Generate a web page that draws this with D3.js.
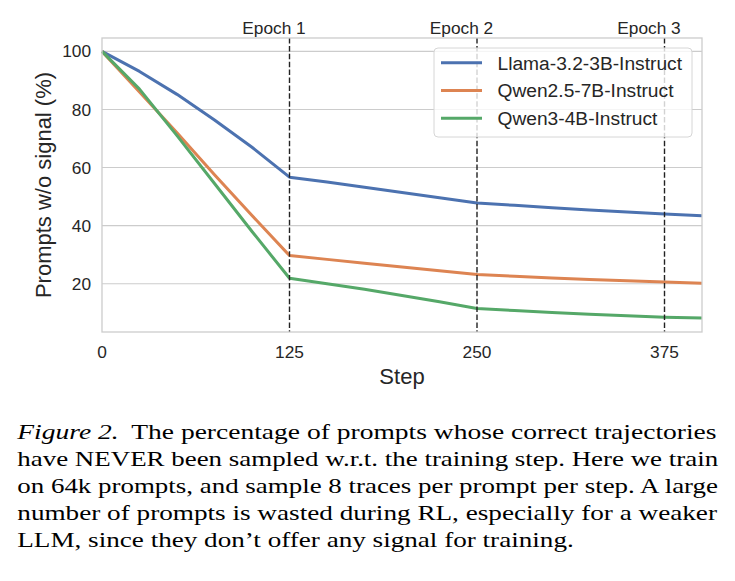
<!DOCTYPE html>
<html lang="en">
<head>
<meta charset="UTF-8">
<title>Prompts without signal</title>
<script src="https://d3js.org/d3.v7.min.js"></script>
<style>
    body {
    margin: 0;
    background-color: white;
    }
    .tick-label {
    font-family: "Liberation Sans", Arial, sans-serif;
    font-size: 17.3px;
    fill: #262626;
    }
    .axis-title {
    font-family: "Liberation Sans", Arial, sans-serif;
    font-size: 22px;
    fill: #262626;
    }
    .legend-label {
    font-family: "Liberation Sans", Arial, sans-serif;
    font-size: 19.2px;
    fill: #262626;
    }
    .caption {
    font-family: "Liberation Serif", "Times New Roman", serif;
    font-size: 22px;
    fill: black;
    }
</style>
</head>
<body>
<svg id="chart" width="735" height="581"></svg>
<script>
    const width = 735;
    const height = 581;

    // data
    const steps = [0, 25, 50, 75, 100, 125, 150, 175, 200, 225, 250, 275, 300, 325, 350, 375, 400];
    const llama = [100, 93.1, 85.2, 76.4, 67.0, 56.7, 55, 53.2, 51.4, 49.6, 47.8, 47.0, 46.2, 45.4, 44.7, 44.0, 43.4];
    const qwen25 = [100, 86, 72, 57.5, 43.5, 29.7, 28.4, 27.1, 25.8, 24.5, 23.2, 22.6, 22.0, 21.5, 21.0, 20.6, 20.2];
    const qwen3 = [100, 87, 71, 54.5, 38, 21.9, 20.0, 18.1, 16.0, 13.8, 11.5, 10.8, 10.1, 9.5, 9.0, 8.5, 8.2];
    const seriesNames = ["Llama-3.2-3B-Instruct", "Qwen2.5-7B-Instruct", "Qwen3-4B-Instruct"];
    const seriesColors = ["#4C72B0", "#DD8452", "#55A868"];
    const epochSteps = [125, 250, 375];
    const epochLabels = ["Epoch 1", "Epoch 2", "Epoch 3"];
    const xTicks = [0, 125, 250, 375];
    const yTicks = [20, 40, 60, 80, 100];
    const captionLines = [
      "The percentage of prompts whose correct trajectories",
      "have NEVER been sampled w.r.t. the training step. Here we train",
      "on 64k prompts, and sample 8 traces per prompt per step. A large",
      "number of prompts is wasted during RL, especially for a weaker",
      "LLM, since they don\u2019t offer any signal for training."
    ];

    const svg = d3.select("#chart");
    svg.append("rect").attr("width", width).attr("height", height).attr("fill", "white");

    const plotLeft = 102, plotRight = 702, plotTop = 38, plotBottom = 332;
    const x = d3.scaleLinear().domain([0, 400]).range([plotLeft, plotRight]);
    const y = d3.scaleLinear().domain([3.4, 104.6]).range([plotBottom, plotTop]);

    // horizontal grid
    svg.selectAll(".grid")
    .data(yTicks)
    .enter()
    .append("line")
    .attr("x1", plotLeft)
    .attr("x2", plotRight)
    .attr("y1", d => y(d))
    .attr("y2", d => y(d))
    .attr("stroke", "#cccccc")
    .attr("stroke-width", 1.1);

    // tick labels
    svg.selectAll(".ytl")
    .data(yTicks)
    .enter()
    .append("text")
    .attr("class", "tick-label")
    .attr("x", plotLeft - 11)
    .attr("y", d => y(d))
    .attr("dy", "0.35em")
    .attr("text-anchor", "end")
    .text(d => d);

    svg.selectAll(".xtl")
    .data(xTicks)
    .enter()
    .append("text")
    .attr("class", "tick-label")
    .attr("x", d => x(d))
    .attr("y", plotBottom + 26)
    .attr("text-anchor", "middle")
    .text(d => d);

    // axis titles
    svg.append("text")
    .attr("class", "axis-title")
    .attr("x", x(200))
    .attr("y", plotBottom + 52)
    .attr("text-anchor", "middle")
    .text("Step");

    svg.append("text")
    .attr("class", "axis-title")
    .attr("transform", "translate(51," + y(54) + ") rotate(-90)")
    .attr("text-anchor", "middle")
    .text("Prompts w/o signal (%)");

    // series lines
    const line = d3.line()
    .x((d, i) => x(steps[i]))
    .y(d => y(d));

    [llama, qwen25, qwen3].forEach((vals, i) => {
      svg.append("path")
      .datum(vals)
      .attr("d", line)
      .attr("fill", "none")
      .attr("stroke", seriesColors[i])
      .attr("stroke-width", 3)
      .attr("stroke-linejoin", "round")
      .attr("stroke-linecap", "butt");
    });

    // epoch markers
    epochSteps.forEach((s, i) => {
      svg.append("line")
      .attr("x1", x(s))
      .attr("x2", x(s))
      .attr("y1", plotTop)
      .attr("y2", plotBottom)
      .attr("stroke", "#222")
      .attr("stroke-width", 1.4)
      .attr("stroke-dasharray", "5.5,2.4");

      svg.append("text")
      .attr("class", "tick-label")
      .attr("x", x(s) - 15.5)
      .attr("y", plotTop - 4)
      .attr("text-anchor", "middle")
      .text(epochLabels[i]);
    });

    // legend
    const legend = svg.append("g");
    legend.append("rect")
    .attr("x", 434)
    .attr("y", 48)
    .attr("width", 258)
    .attr("height", 89)
    .attr("rx", 4)
    .attr("fill", "white")
    .attr("fill-opacity", 0.8)
    .attr("stroke", "#d6d6d6")
    .attr("stroke-width", 1);

    seriesNames.forEach((name, i) => {
      const ly = 62.7 + i * 27.8;
      legend.append("line")
      .attr("x1", 441)
      .attr("x2", 482)
      .attr("y1", ly)
      .attr("y2", ly)
      .attr("stroke", seriesColors[i])
      .attr("stroke-width", 3);
      legend.append("text")
      .attr("class", "legend-label")
      .attr("x", 497.5)
      .attr("y", ly + 6.8)
      .text(name);
    });

    // plot frame
    svg.append("rect")
    .attr("x", plotLeft)
    .attr("y", plotTop)
    .attr("width", plotRight - plotLeft)
    .attr("height", plotBottom - plotTop)
    .attr("fill", "none")
    .attr("stroke", "#cccccc")
    .attr("stroke-width", 1.3);

    // caption: each full line stretched to the column width
    const capLeft = 17.3, capRight = 718.3;
    const scales = [];
    captionLines.forEach((txt, i) => {
      const g = svg.append("g");
      const t = g.append("text")
      .attr("class", "caption")
      .attr("x", 0)
      .attr("y", 0);
      if (i === 0) {
        t.append("tspan").attr("font-style", "italic").text("Figure 2.");
        t.append("tspan").attr("dx", 10).text(txt);
      } else {
        t.text(txt);
      }
      const len = t.node().getBBox().width;
      let sx;
      if (i < captionLines.length - 1) {
        sx = (capRight - capLeft) / len;
        scales.push(sx);
      } else {
        sx = d3.mean(scales);
      }
      g.attr("transform", "translate(" + capLeft + "," + (439.3 + i * 26.85) + ") scale(" + sx + ",1)");
    });
</script>
</body>
</html>
